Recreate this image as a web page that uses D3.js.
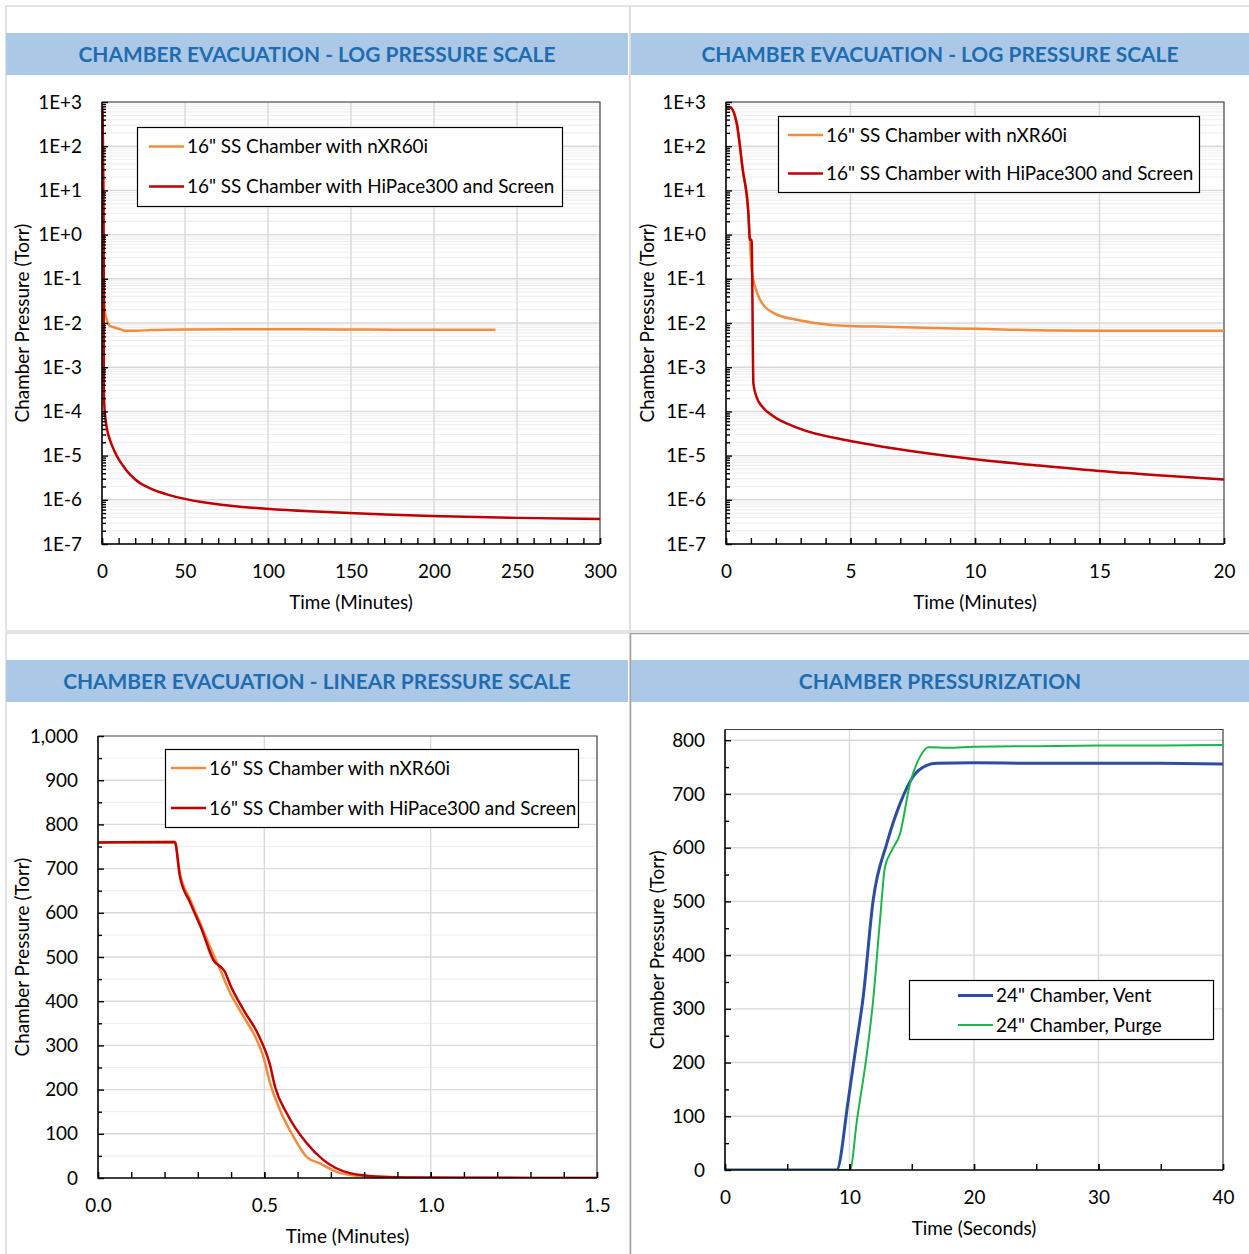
<!DOCTYPE html>
<html>
<head>
<meta charset="utf-8">
<script src="https://cdn.jsdelivr.net/npm/d3@7"></script>
<style>
  body { margin: 0; background: #fff; }
  svg { display: block; font-family: Lato, "Open Sans", sans-serif; }
</style>
</head>
<body>
<svg id="chart" width="1249" height="1254"></svg>
<script>
// ---------- data ----------
// evacuation, time in minutes, pressure in Torr
var evacTimeNxr = [0, 0.16, 0.43, 0.67, 0.9, 0.96, 1.03, 1.17, 1.35, 1.57, 1.9, 2.24, 2.8, 3.57, 4.9, 6, 8, 10, 13, 15, 20, 30, 50, 80, 120, 160, 200, 237];
var evacNxr = [760, 760, 330, 30, 3, 0.76, 0.16, 0.066, 0.035, 0.023, 0.017, 0.014, 0.012, 0.010, 0.0085, 0.0083, 0.0078, 0.0074, 0.0068, 0.0067, 0.0067, 0.0069, 0.0071, 0.0072, 0.0072, 0.0071, 0.0070, 0.0070];

var evacTimeHipace = [0, 0.16, 0.43, 0.67, 0.9, 0.96, 1.03, 1.1, 1.23, 1.5, 1.83, 2.9, 4.9, 6, 8, 10, 12.5, 15, 17.5, 20, 22.5, 25, 30, 35, 40, 50, 60, 73, 85, 99, 125, 149, 175, 199, 250, 300];
var evacHipace = [760, 760, 330, 30, 3, 0.76, 0.76, 4.3e-4, 2.1e-4, 1.2e-4, 8.3e-5, 4.2e-5, 2.2e-5, 1.7e-5, 1.15e-5, 8.3e-6, 6e-6, 4.47e-6, 3.55e-6, 2.88e-6, 2.45e-6, 2.14e-6, 1.74e-6, 1.48e-6, 1.29e-6, 1.05e-6, 8.9e-7, 7.6e-7, 6.9e-7, 6.3e-7, 5.5e-7, 5.0e-7, 4.6e-7, 4.3e-7, 3.9e-7, 3.7e-7];

// first 1.5 minutes on a linear scale
var linTimeNxr = [0, 0.231, 0.246, 0.277, 0.312, 0.347, 0.367, 0.397, 0.437, 0.477, 0.497, 0.517, 0.547, 0.587, 0.627, 0.667, 0.717, 0.757, 0.85, 0.95, 1.5];
var linNxr = [759, 760, 690, 630, 568, 505, 472, 419, 366, 313, 275, 215, 154, 94, 48, 33, 14, 7, 2, 0.5, 0.1];
var linTimeHipace = [0, 0.231, 0.246, 0.277, 0.312, 0.347, 0.382, 0.397, 0.437, 0.482, 0.517, 0.532, 0.567, 0.627, 0.677, 0.757, 0.85, 0.95, 1.1, 1.3, 1.5];
var linHipace = [759, 760, 683, 623, 562, 493, 466, 438, 381, 324, 256, 207, 147, 79, 41, 11, 3, 1, 0.5, 0.2, 0.1];

// pressurization, time in seconds
var ventTime = [0, 8.97, 9.9, 10.44, 11.1, 11.9, 13, 14.06, 15.1, 16.2, 17, 20, 25, 30, 35, 40];
var vent = [0, 0, 130, 217, 322, 502, 608, 682, 732, 753, 757, 758, 757, 757, 757, 756];
var purgeTime = [0, 10.04, 10.6, 11.4, 11.9, 12.45, 12.85, 13.4, 14.06, 14.86, 15.66, 16.33, 18, 20, 25, 30, 35, 40];
var purge = [0, 0, 93, 217, 316, 465, 564, 595, 626, 719, 769, 787, 786, 788, 789, 790, 790, 791];

// tick labels
var logTicks = [1e-7, 1e-6, 1e-5, 1e-4, 1e-3, 1e-2, 1e-1, 1e0, 1e1, 1e2, 1e3];
var longMinuteTicks = [0, 50, 100, 150, 200, 250, 300];
var shortMinuteTicks = [0, 5, 10, 15, 20];
var linTorrTicks = [0, 100, 200, 300, 400, 500, 600, 700, 800, 900, 1000];
var linMinuteTicks = [0, 0.5, 1.0, 1.5];
var ventTorrTicks = [0, 100, 200, 300, 400, 500, 600, 700, 800];
var secondTicks = [0, 10, 20, 30, 40];

var nameNxr = "16\" SS Chamber with nXR60i";
var nameHipace = "16\" SS Chamber with HiPace300 and Screen";
var nameVent = "24\" Chamber, Vent";
var namePurge = "24\" Chamber, Purge";

var ORANGE = "#f28c3d", RED = "#c00000", BLUE = "#2b4ea2", GREEN = "#1fb44b";
var FS = 18.9;

var svg = d3.select("#chart");

// ---------- panels ----------
function panelBox(x, y, w, h, stroke) {
  svg.append("rect").attr("x", x).attr("y", y).attr("width", w).attr("height", h)
    .style("fill", "none").style("stroke", stroke).style("stroke-width", 1.5);
}
panelBox(6, 6, 624, 625, "#dcdcdc");
panelBox(630, 6, 640, 625, "#dcdcdc");
panelBox(6, 633, 624, 640, "#dcdcdc");
panelBox(630.5, 633.5, 640, 640, "#a0a0a0");

function band(x0, x1, y0, y1, title) {
  svg.append("rect").attr("x", x0).attr("y", y0).attr("width", x1 - x0).attr("height", y1 - y0)
    .style("fill", "#abc9e7");
  svg.append("text").attr("x", (x0 + x1) / 2).attr("y", (y0 + y1) / 2).attr("dy", "0.36em")
    .attr("text-anchor", "middle")
    .style("font-weight", "bold").style("font-size", "20.9px").style("fill", "#1f6cb1")
    .text(title);
}
band(6, 628, 33, 75, "CHAMBER EVACUATION - LOG PRESSURE SCALE");
band(631, 1249, 33, 75, "CHAMBER EVACUATION - LOG PRESSURE SCALE");
band(6, 628, 660, 702, "CHAMBER EVACUATION - LINEAR PRESSURE SCALE");
band(631, 1249, 660, 702, "CHAMBER PRESSURIZATION");

// ---------- charts ----------
function styleAxis(a) {
  a.attr("font-size", null).attr("font-family", null);
  a.selectAll("line").style("stroke", "#000").style("stroke-width", 1.4);
  a.select(".domain").remove();
  a.selectAll("text").style("font-size", FS + "px").style("fill", "#000");
}

function drawChart(o) {
  var g = svg.append("g");
  var left = o.x.range()[0], right = o.x.range()[1];
  var bottom = o.y.range()[0], top = o.y.range()[1];

  g.selectAll(null).data(o.yGridMinor).enter().append("line")
    .attr("x1", left).attr("x2", right)
    .attr("y1", function(d) { return o.y(d); }).attr("y2", function(d) { return o.y(d); })
    .style("stroke", "#f0f0f0").style("stroke-width", 1.2);
  g.selectAll(null).data(o.yGrid).enter().append("line")
    .attr("x1", left).attr("x2", right)
    .attr("y1", function(d) { return o.y(d); }).attr("y2", function(d) { return o.y(d); })
    .style("stroke", "#d9d9d9").style("stroke-width", 1.4);
  g.selectAll(null).data(o.xGrid).enter().append("line")
    .attr("y1", top).attr("y2", bottom)
    .attr("x1", function(d) { return o.x(d); }).attr("x2", function(d) { return o.x(d); })
    .style("stroke", "#d9d9d9").style("stroke-width", 1.4);

  // plot frame
  g.append("path").attr("d", "M" + left + "," + top + "H" + right + "V" + bottom)
    .style("fill", "none").style("stroke", "#404040").style("stroke-width", 1.2);

  g.append("clipPath").attr("id", "clip" + o.id).append("rect")
    .attr("x", left).attr("y", top - 2).attr("width", right - left).attr("height", bottom - top + 2);

  o.series.forEach(function(s) {
    var pts = s.t.map(function(t, i) { return [t, s.v[i]]; });
    g.append("path").datum(pts)
      .attr("clip-path", "url(#clip" + o.id + ")")
      .attr("d", d3.line()
        .x(function(d) { return o.x(d[0]); })
        .y(function(d) { return o.y(d[1]); })
        .curve(d3.curveMonotoneX))
      .style("fill", "none").style("stroke", s.color).style("stroke-width", s.width)
      .style("stroke-linejoin", "round");
  });

  // minor ticks
  g.append("g").attr("transform", "translate(" + left + ",0)")
    .call(d3.axisLeft(o.y).tickValues(o.yMinor).tickFormat("").tickSizeInner(-4).tickSizeOuter(0))
    .call(styleAxis);
  g.append("g").attr("transform", "translate(0," + bottom + ")")
    .call(d3.axisBottom(o.x).tickValues(o.xMinor).tickFormat("").tickSizeInner(-6).tickSizeOuter(0))
    .call(styleAxis);

  // labelled ticks
  g.append("g").attr("transform", "translate(" + left + ",0)")
    .call(d3.axisLeft(o.y).tickValues(o.yTicks).tickFormat(o.yFormat).tickSizeInner(-6).tickSizeOuter(0).tickPadding(20))
    .call(styleAxis);
  var xa = g.append("g").attr("transform", "translate(0," + bottom + ")")
    .call(d3.axisBottom(o.x).tickValues(o.xTicks).tickFormat(o.xFormat).tickSizeInner(-6).tickSizeOuter(0))
    .call(styleAxis);
  xa.selectAll("text").attr("y", 27).attr("dy", "0.35em");

  // axis lines
  g.append("path").attr("d", "M" + left + "," + top + "V" + bottom + "H" + right)
    .style("fill", "none").style("stroke", "#000").style("stroke-width", 1.6);

  g.append("text").attr("x", (left + right) / 2).attr("y", bottom + 58).attr("dy", "0.35em")
    .attr("text-anchor", "middle").style("font-size", FS + "px").text(o.xTitle);
  g.append("text")
    .attr("transform", "translate(" + o.yTitleX + "," + (top + bottom) / 2 + ") rotate(-90)")
    .attr("dy", "0.35em").attr("text-anchor", "middle").style("font-size", FS + "px")
    .text("Chamber Pressure (Torr)");

  // legend
  var L = o.legend;
  g.append("rect").attr("x", L.x).attr("y", L.y).attr("width", L.w).attr("height", L.h)
    .style("fill", "#fff").style("stroke", "#000").style("stroke-width", 1.2);
  o.series.forEach(function(s, i) {
    var ly = L.rowY[i];
    g.append("line").attr("x1", L.lineX0).attr("x2", L.lineX1).attr("y1", ly).attr("y2", ly)
      .style("stroke", s.color).style("stroke-width", s.width);
    g.append("text").attr("x", L.lineX1 + 3).attr("y", ly).attr("dy", "0.35em")
      .style("font-size", FS + "px").text(s.name);
  });
}

function logLabel(d) {
  var e = Math.round(Math.log10(d));
  return "1E" + (e >= 0 ? "+" : "") + e;
}
var logMinor = [];
logTicks.slice(0, -1).forEach(function(d) {
  d3.range(2, 10).forEach(function(k) { logMinor.push(k * d); });
});

var evacSeries = [
  {name: nameNxr, t: evacTimeNxr, v: evacNxr, color: ORANGE, width: 2.5},
  {name: nameHipace, t: evacTimeHipace, v: evacHipace, color: RED, width: 2.5}
];

drawChart({
  id: "a",
  x: d3.scaleLinear().domain([0, 300]).range([102, 600]),
  y: d3.scaleLog().domain([1e-7, 1e3]).range([544, 102]),
  xTicks: longMinuteTicks, xFormat: d3.format("d"), xMinor: d3.range(0, 301, 10), xGrid: longMinuteTicks.slice(1, -1),
  yTicks: logTicks, yFormat: logLabel, yMinor: logMinor, yGrid: logTicks, yGridMinor: logMinor,
  xTitle: "Time (Minutes)", yTitleX: 22,
  series: evacSeries,
  legend: {x: 137.5, y: 127.5, w: 425, h: 79, rowY: [146.5, 186.5], lineX0: 149, lineX1: 184}
});

drawChart({
  id: "b",
  x: d3.scaleLinear().domain([0, 20]).range([726, 1224]),
  y: d3.scaleLog().domain([1e-7, 1e3]).range([544, 102]),
  xTicks: shortMinuteTicks, xFormat: d3.format("d"), xMinor: d3.range(0, 21, 1), xGrid: shortMinuteTicks.slice(1, -1),
  yTicks: logTicks, yFormat: logLabel, yMinor: logMinor, yGrid: logTicks, yGridMinor: logMinor,
  xTitle: "Time (Minutes)", yTitleX: 647,
  series: evacSeries,
  legend: {x: 778.5, y: 116.5, w: 421, h: 76, rowY: [135, 173.5], lineX0: 788, lineX1: 823}
});

drawChart({
  id: "c",
  x: d3.scaleLinear().domain([0, 1.5]).range([98, 597]),
  y: d3.scaleLinear().domain([0, 1000]).range([1178, 736]),
  xTicks: linMinuteTicks, xFormat: d3.format(".1f"), xMinor: d3.range(0, 16).map(function(k) { return k / 10; }), xGrid: [0.5, 1.0],
  yTicks: linTorrTicks, yFormat: d3.format(","), yMinor: d3.range(50, 1000, 100), yGrid: linTorrTicks.slice(1, -1), yGridMinor: d3.range(50, 1000, 100),
  xTitle: "Time (Minutes)", yTitleX: 22,
  series: [
    {name: nameNxr, t: linTimeNxr, v: linNxr, color: ORANGE, width: 2.5},
    {name: nameHipace, t: linTimeHipace, v: linHipace, color: RED, width: 2.5}
  ],
  legend: {x: 165.5, y: 749.5, w: 413, h: 78, rowY: [768, 808], lineX0: 171, lineX1: 206}
});

drawChart({
  id: "d",
  x: d3.scaleLinear().domain([0, 40]).range([725, 1223]),
  y: d3.scaleLinear().domain([0, 820]).range([1170, 729.5]),
  xTicks: secondTicks, xFormat: d3.format("d"), xMinor: d3.range(0, 41, 5), xGrid: [10, 20, 30],
  yTicks: ventTorrTicks, yFormat: d3.format("d"), yMinor: d3.range(50, 820, 100), yGrid: ventTorrTicks.slice(1), yGridMinor: [],
  xTitle: "Time (Seconds)", yTitleX: 657,
  series: [
    {name: nameVent, t: ventTime, v: vent, color: BLUE, width: 3},
    {name: namePurge, t: purgeTime, v: purge, color: GREEN, width: 2}
  ],
  legend: {x: 909.5, y: 980.5, w: 304, h: 59, rowY: [995.5, 1025], lineX0: 958, lineX1: 993}
});
</script>
</body>
</html>
